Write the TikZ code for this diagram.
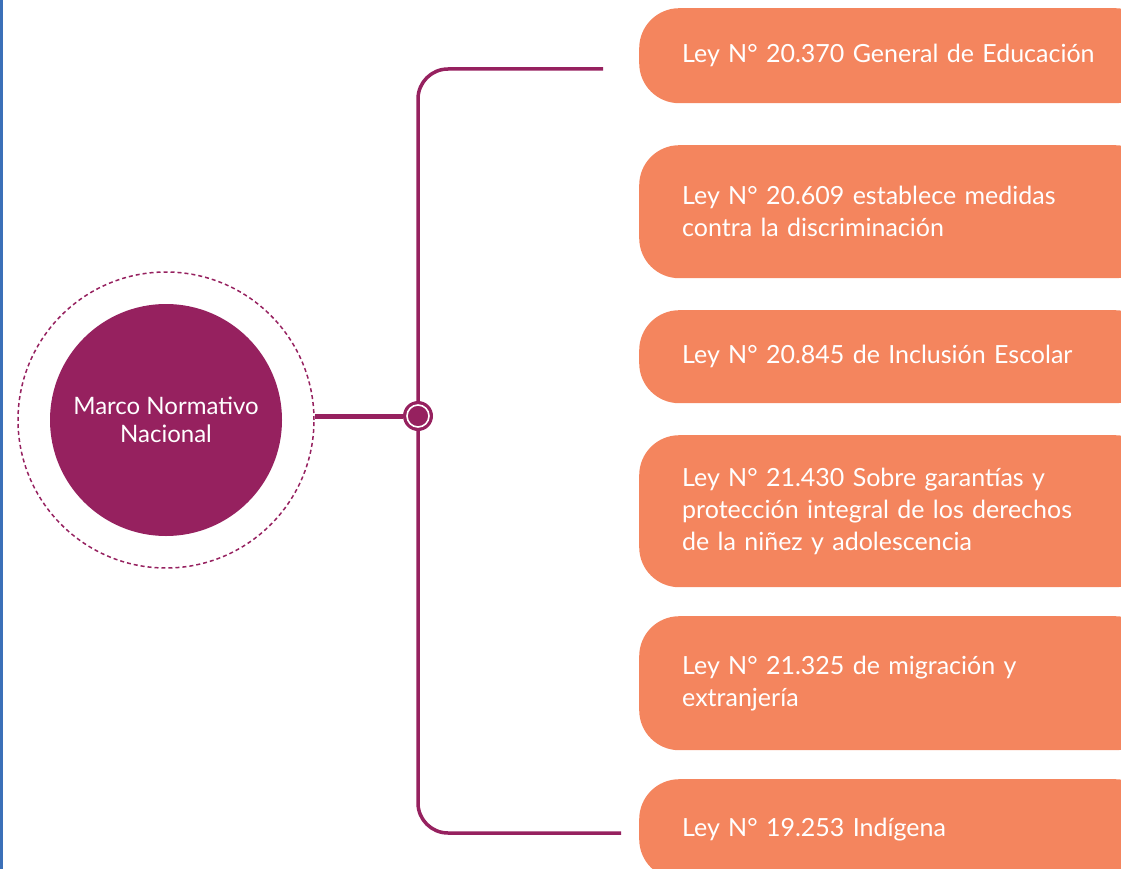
\documentclass[tikz,border=0pt]{standalone}
\usepackage{fontspec}
\setmainfont{Lato}
\usepackage{tikz}

\definecolor{plum}{HTML}{96215F}
\definecolor{salmon}{HTML}{F4855E}
\definecolor{edgeblue}{HTML}{3B70B8}

\tikzset{
  law/.style={anchor=north west, fill=salmon, rounded corners=40pt, text=white,
    text width=430pt, inner xsep=43pt, align=left,
    font=\fontsize{25}{32}\selectfont},
  trunk/.style={draw=plum, line width=3.5pt, rounded corners=30pt}
}

\begin{document}
\begin{tikzpicture}[x=1pt, y=-1pt]
    \useasboundingbox (0,0) rectangle (1121,869);
    \clip (0,0) rectangle (1121,869);
    \fill[edgeblue] (0,0) rectangle (3,869);

    \node (ring) at (166,420) [circle, draw=plum, line width=1.5pt, dash pattern=on 4pt off 3pt, minimum size=296pt] {};
    \node (hub) at (166,420) [circle, fill=plum, minimum size=232pt, text=white, align=center, font=\fontsize{24}{28}\selectfont] {Marco Normativo\\Nacional};
    \node (dot) at (418,416) [circle, fill=plum, minimum size=30pt, inner sep=0pt] {};
    \draw[white, line width=1.6pt] (dot) circle (11pt);

    \node (l1) at (639,8) [law, minimum height=95pt] {Ley N° 20.370 General de Educación};
    \node (l2) at (639,145) [law, minimum height=133pt] {Ley N° 20.609 establece medidas\\contra la discriminación};
    \node (l3) at (639,310) [law, minimum height=93pt] {Ley N° 20.845 de Inclusión Escolar};
    \node (l4) at (639,435) [law, minimum height=152pt] {Ley N° 21.430 Sobre garantías y\\protección integral de los derechos\\de la niñez y adolescencia};
    \node (l5) at (639,616) [law, minimum height=134pt] {Ley N° 21.325 de migración y\\extranjería};
    \node (l6) at (639,779) [law, minimum height=100pt] {Ley N° 19.253 Indígena};

    \coordinate (topend) at (603,69);
    \coordinate (botend) at (621,833);

    \draw[plum, line width=5pt] (ring.east |- dot) -- (dot.west);
    \draw[trunk] (topend) -| (dot.north);
    \draw[trunk] (botend) -| (dot.south);
  \end{tikzpicture}
\end{document}
